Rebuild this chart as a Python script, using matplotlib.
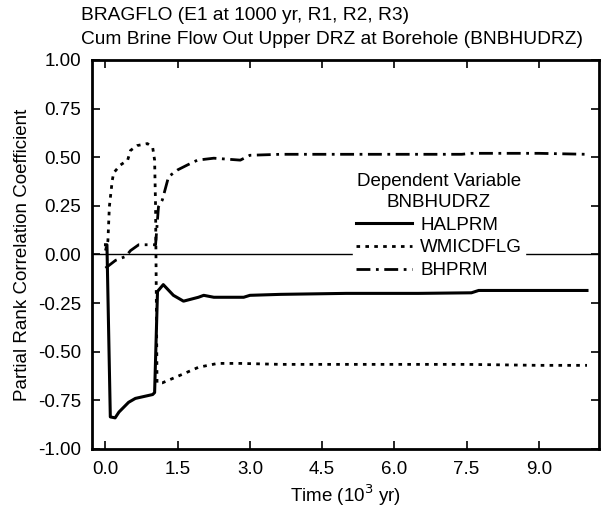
import matplotlib
matplotlib.use('Agg')
import matplotlib.pyplot as plt

plt.rcParams['font.family'] = ['Liberation Sans', 'DejaVu Sans']

# Time (10^3 yr) and partial rank correlation coefficients
halprm_t = [0.0, 0.03, 0.10, 0.20, 0.28, 0.40, 0.48, 0.62, 0.80, 0.98, 1.02, 1.08, 1.20,
            1.41, 1.62, 1.93, 2.04, 2.25, 2.87, 3.00, 3.64, 5.0, 6.5, 7.6, 7.75, 9.0, 10.0]
halprm_v = [0.05, 0.05, -0.835, -0.84, -0.81, -0.78, -0.76, -0.74, -0.73, -0.72, -0.71, -0.19, -0.155,
            -0.21, -0.24, -0.22, -0.21, -0.22, -0.22, -0.21, -0.205, -0.20, -0.20, -0.197, -0.185, -0.185, -0.185]

wmicdflg_t = [0.0, 0.05, 0.08, 0.14, 0.17, 0.31, 0.46, 0.52, 0.66, 0.87, 0.98, 1.02, 1.04, 1.07,
              1.18, 1.56, 1.93, 2.33, 2.80, 3.64, 5.0, 6.5, 7.5, 9.0, 10.0]
wmicdflg_v = [0.02, 0.07, 0.245, 0.38, 0.42, 0.46, 0.485, 0.535, 0.56, 0.57, 0.55, 0.485, 0.245, -0.66,
              -0.66, -0.62, -0.58, -0.56, -0.56, -0.565, -0.565, -0.565, -0.565, -0.57, -0.57]

bhprm_t = [0.0, 0.21, 0.42, 0.52, 0.69, 0.94, 1.04, 1.08, 1.10, 1.18, 1.31, 1.50, 1.70, 1.91,
           2.25, 2.80, 3.00, 3.64, 5.0, 6.5, 7.4, 7.6, 9.0, 10.0]
bhprm_v = [-0.07, -0.03, -0.01, 0.02, 0.05, 0.05, 0.05, 0.18, 0.245, 0.28, 0.40, 0.435, 0.46, 0.485,
           0.495, 0.485, 0.51, 0.515, 0.515, 0.515, 0.515, 0.52, 0.52, 0.515]

x_ticks = [0.0, 1.5, 3.0, 4.5, 6.0, 7.5, 9.0]
y_ticks = [1.00, 0.75, 0.50, 0.25, 0.00, -0.25, -0.50, -0.75, -1.00]

fs = 13.5

fig = plt.figure(figsize=(6.03, 5.09), dpi=100)
ax = fig.add_axes([0.1526, 0.1179, 0.8408, 0.7643])

ax.axhline(0.0, color='black', lw=1.0, zorder=1)
ax.plot(halprm_t, halprm_v, color='black', lw=2.2, ls='-', label='HALPRM', zorder=3)
ax.plot(wmicdflg_t, wmicdflg_v, color='black', lw=2.0, ls=(0, (1.3, 1.9)), label='WMICDFLG', zorder=3)
ax.plot(bhprm_t, bhprm_v, color='black', lw=2.0, ls=(0, (5, 2, 1, 2)), label='BHPRM', zorder=3)

ax.set_xlim(-0.28, 10.25)
ax.set_ylim(-1.0, 1.0)
ax.set_xticks(x_ticks)
ax.set_xticklabels([f'{t:.1f}' for t in x_ticks])
ax.set_yticks(y_ticks)
ax.set_yticklabels([f'{v:.2f}' for v in y_ticks])
ax.tick_params(direction='in', length=6, width=1.2, top=True, right=True, labelsize=fs)
ax.tick_params(axis='x', pad=9)
ax.tick_params(axis='y', pad=8)
for s in ax.spines.values():
    s.set_linewidth(2.0)

ax.set_xlabel('Time (10$^3$ yr)', fontsize=fs, labelpad=3)
ax.set_ylabel('Partial Rank Correlation Coefficient', fontsize=fs, labelpad=5)

fig.text(0.134, 0.97, 'BRAGFLO (E1 at 1000 yr, R1, R2, R3)', fontsize=13.8, ha='left', va='center')
fig.text(0.134, 0.923, 'Cum Brine Flow Out Upper DRZ at Borehole (BNBHUDRZ)', fontsize=13.8, ha='left', va='center')

leg = ax.legend(title='Dependent Variable\nBNBHUDRZ', loc='center', bbox_to_anchor=(0.684, 0.573),
                fontsize=fs, title_fontsize=fs, frameon=True, handlelength=3.0,
                handletextpad=0.45, labelspacing=0.3, borderpad=0.15, fancybox=False)
leg.get_title().set_multialignment('center')
leg.get_title().set_linespacing(1.3)
leg.get_frame().set_facecolor('white')
leg.get_frame().set_edgecolor('white')
leg.get_frame().set_alpha(1.0)
leg.set_zorder(2)

fig.savefig('out.png', dpi=100)
